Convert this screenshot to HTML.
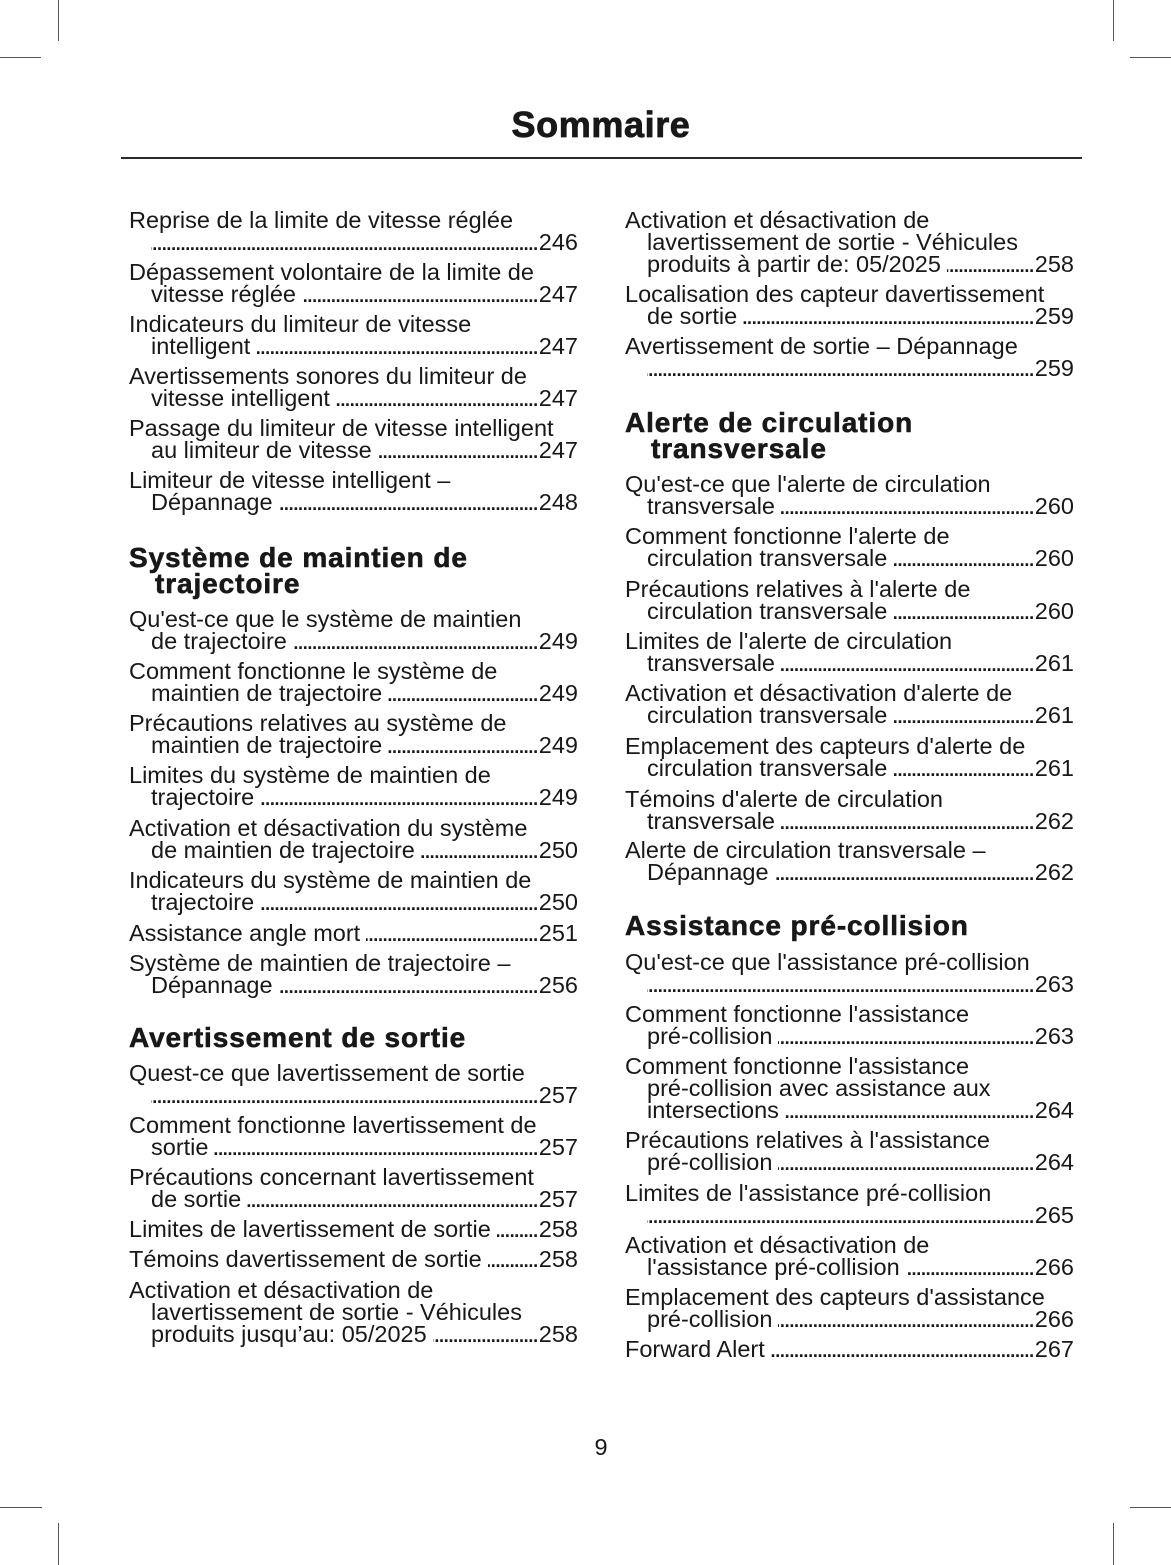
<!DOCTYPE html>
<html><head><meta charset="utf-8"><style>
html,body{margin:0;padding:0;background:#fff}
body{width:1171px;height:1565px;position:relative;overflow:hidden;font-family:"Liberation Sans",sans-serif;color:#181818}
.m{position:absolute;background:#555}
.title{position:absolute;left:0;width:1202px;top:105px;text-align:center;font-weight:bold;font-size:36px;line-height:40px;letter-spacing:0.6px;-webkit-text-stroke:0.8px #181818}
.rule{position:absolute;left:121px;width:961px;top:157px;height:1.5px;background:#2a2a2a}
.c{position:absolute;width:449px}
.e{position:absolute;left:0;width:449px;font-size:23.5px;line-height:22px}
.e>div{white-space:nowrap;line-height:22px;height:22px}
.i{padding-left:22px}
.l{display:flex;align-items:baseline}
.t{flex:0 0 auto}
.f{flex:1 1 0;min-width:0;overflow:hidden;direction:rtl;font-size:18px;font-weight:bold;letter-spacing:-0.3px;line-height:22px;white-space:nowrap}
.f::before{content:"........................................................................................................................"}
.t+.f{margin-left:6px}
.n{flex:0 0 auto;margin-left:1px}
.h{position:absolute;left:0;width:449px;font-weight:bold;font-size:28px;line-height:26px;letter-spacing:0.9px;-webkit-text-stroke:0.6px #181818;white-space:nowrap}
.h .hi{padding-left:26px}
.pn{position:absolute;left:0;width:1202px;top:1436px;text-align:center;font-size:23.5px;line-height:22px}
</style></head><body>
<div class="m" style="left:58px;top:0;width:1px;height:41px"></div>
<div class="m" style="left:0;top:57px;width:41px;height:1px"></div>
<div class="m" style="left:1113px;top:0;width:1px;height:41px"></div>
<div class="m" style="left:1130px;top:57px;width:41px;height:1px"></div>
<div class="m" style="left:0;top:1507px;width:42px;height:1px"></div>
<div class="m" style="left:1130px;top:1507px;width:41px;height:1px"></div>
<div class="m" style="left:58px;top:1523px;width:1px;height:42px"></div>
<div class="m" style="left:1113px;top:1523px;width:1px;height:42px"></div>

<div class="title">Sommaire</div>
<div class="rule"></div>

<div class="c" style="left:129px;top:0">
<div class="e" style="top:209px"><div>Reprise de la limite de vitesse réglée</div><div class="l i"><span class="f"></span><span class="n">246</span></div></div>
<div class="e" style="top:261px"><div>Dépassement volontaire de la limite de</div><div class="l i"><span class="t">vitesse réglée</span><span class="f"></span><span class="n">247</span></div></div>
<div class="e" style="top:313px"><div>Indicateurs du limiteur de vitesse</div><div class="l i"><span class="t">intelligent</span><span class="f"></span><span class="n">247</span></div></div>
<div class="e" style="top:365px"><div>Avertissements sonores du limiteur de</div><div class="l i"><span class="t">vitesse intelligent</span><span class="f"></span><span class="n">247</span></div></div>
<div class="e" style="top:417px"><div>Passage du limiteur de vitesse intelligent</div><div class="l i"><span class="t">au limiteur de vitesse</span><span class="f"></span><span class="n">247</span></div></div>
<div class="e" style="top:469px"><div>Limiteur de vitesse intelligent –</div><div class="l i"><span class="t">Dépannage</span><span class="f"></span><span class="n">248</span></div></div>
<div class="h" style="top:545px"><div>Système de maintien de</div><div class="hi">trajectoire</div></div>
<div class="e" style="top:608px"><div>Qu'est-ce que le système de maintien</div><div class="l i"><span class="t">de trajectoire</span><span class="f"></span><span class="n">249</span></div></div>
<div class="e" style="top:660px"><div>Comment fonctionne le système de</div><div class="l i"><span class="t">maintien de trajectoire</span><span class="f"></span><span class="n">249</span></div></div>
<div class="e" style="top:712px"><div>Précautions relatives au système de</div><div class="l i"><span class="t">maintien de trajectoire</span><span class="f"></span><span class="n">249</span></div></div>
<div class="e" style="top:764px"><div>Limites du système de maintien de</div><div class="l i"><span class="t">trajectoire</span><span class="f"></span><span class="n">249</span></div></div>
<div class="e" style="top:817px"><div>Activation et désactivation du système</div><div class="l i"><span class="t">de maintien de trajectoire</span><span class="f"></span><span class="n">250</span></div></div>
<div class="e" style="top:869px"><div>Indicateurs du système de maintien de</div><div class="l i"><span class="t">trajectoire</span><span class="f"></span><span class="n">250</span></div></div>
<div class="e" style="top:922px"><div class="l"><span class="t">Assistance angle mort</span><span class="f"></span><span class="n">251</span></div></div>
<div class="e" style="top:952px"><div>Système de maintien de trajectoire –</div><div class="l i"><span class="t">Dépannage</span><span class="f"></span><span class="n">256</span></div></div>
<div class="h" style="top:1025px"><div>Avertissement de sortie</div></div>
<div class="e" style="top:1062px"><div>Quest-ce que lavertissement de sortie</div><div class="l i"><span class="f"></span><span class="n">257</span></div></div>
<div class="e" style="top:1114px"><div>Comment fonctionne lavertissement de</div><div class="l i"><span class="t">sortie</span><span class="f"></span><span class="n">257</span></div></div>
<div class="e" style="top:1166px"><div>Précautions concernant lavertissement</div><div class="l i"><span class="t">de sortie</span><span class="f"></span><span class="n">257</span></div></div>
<div class="e" style="top:1218px"><div class="l"><span class="t">Limites de lavertissement de sortie</span><span class="f"></span><span class="n">258</span></div></div>
<div class="e" style="top:1248px"><div class="l"><span class="t">Témoins davertissement de sortie</span><span class="f"></span><span class="n">258</span></div></div>
<div class="e" style="top:1279px"><div>Activation et désactivation de</div><div class="i">lavertissement de sortie - Véhicules</div><div class="l i"><span class="t">produits jusqu’au: 05/2025</span><span class="f"></span><span class="n">258</span></div></div>
</div>

<div class="c" style="left:625px;top:0">
<div class="e" style="top:209px"><div>Activation et désactivation de</div><div class="i">lavertissement de sortie - Véhicules</div><div class="l i"><span class="t">produits à partir de: 05/2025</span><span class="f"></span><span class="n">258</span></div></div>
<div class="e" style="top:283px"><div>Localisation des capteur davertissement</div><div class="l i"><span class="t">de sortie</span><span class="f"></span><span class="n">259</span></div></div>
<div class="e" style="top:335px"><div>Avertissement de sortie – Dépannage</div><div class="l i"><span class="f"></span><span class="n">259</span></div></div>
<div class="h" style="top:410px"><div>Alerte de circulation</div><div class="hi">transversale</div></div>
<div class="e" style="top:473px"><div>Qu'est-ce que l'alerte de circulation</div><div class="l i"><span class="t">transversale</span><span class="f"></span><span class="n">260</span></div></div>
<div class="e" style="top:525px"><div>Comment fonctionne l'alerte de</div><div class="l i"><span class="t">circulation transversale</span><span class="f"></span><span class="n">260</span></div></div>
<div class="e" style="top:578px"><div>Précautions relatives à l'alerte de</div><div class="l i"><span class="t">circulation transversale</span><span class="f"></span><span class="n">260</span></div></div>
<div class="e" style="top:630px"><div>Limites de l'alerte de circulation</div><div class="l i"><span class="t">transversale</span><span class="f"></span><span class="n">261</span></div></div>
<div class="e" style="top:682px"><div>Activation et désactivation d'alerte de</div><div class="l i"><span class="t">circulation transversale</span><span class="f"></span><span class="n">261</span></div></div>
<div class="e" style="top:735px"><div>Emplacement des capteurs d'alerte de</div><div class="l i"><span class="t">circulation transversale</span><span class="f"></span><span class="n">261</span></div></div>
<div class="e" style="top:788px"><div>Témoins d'alerte de circulation</div><div class="l i"><span class="t">transversale</span><span class="f"></span><span class="n">262</span></div></div>
<div class="e" style="top:839px"><div>Alerte de circulation transversale –</div><div class="l i"><span class="t">Dépannage</span><span class="f"></span><span class="n">262</span></div></div>
<div class="h" style="top:913px"><div>Assistance pré-collision</div></div>
<div class="e" style="top:951px"><div>Qu'est-ce que l'assistance pré-collision</div><div class="l i"><span class="f"></span><span class="n">263</span></div></div>
<div class="e" style="top:1003px"><div>Comment fonctionne l'assistance</div><div class="l i"><span class="t">pré-collision</span><span class="f"></span><span class="n">263</span></div></div>
<div class="e" style="top:1055px"><div>Comment fonctionne l'assistance</div><div class="i">pré-collision avec assistance aux</div><div class="l i"><span class="t">intersections</span><span class="f"></span><span class="n">264</span></div></div>
<div class="e" style="top:1129px"><div>Précautions relatives à l'assistance</div><div class="l i"><span class="t">pré-collision</span><span class="f"></span><span class="n">264</span></div></div>
<div class="e" style="top:1182px"><div>Limites de l'assistance pré-collision</div><div class="l i"><span class="f"></span><span class="n">265</span></div></div>
<div class="e" style="top:1234px"><div>Activation et désactivation de</div><div class="l i"><span class="t">l'assistance pré-collision</span><span class="f"></span><span class="n">266</span></div></div>
<div class="e" style="top:1286px"><div>Emplacement des capteurs d'assistance</div><div class="l i"><span class="t">pré-collision</span><span class="f"></span><span class="n">266</span></div></div>
<div class="e" style="top:1338px"><div class="l"><span class="t">Forward Alert</span><span class="f"></span><span class="n">267</span></div></div>
</div>

<div class="pn">9</div>
</body></html>
